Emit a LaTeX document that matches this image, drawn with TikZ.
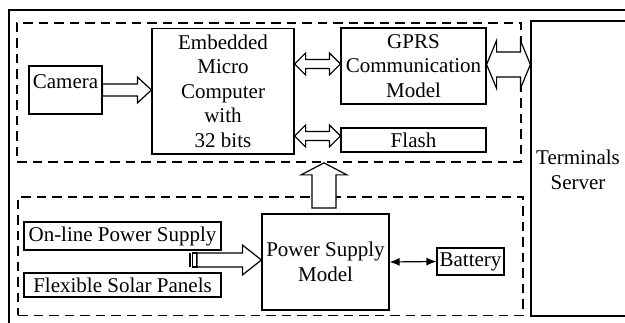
\documentclass[tikz,border=0pt]{standalone}
\usepackage{fontspec}
\setmainfont{Liberation Serif}
\usetikzlibrary{calc,arrows.meta}
\newcommand\fatarrowR[5]{% A, B, shaft half, head half, head length
  \draw[arrowline] ($(#1)+(0,#3)$) -- ($(#2)+(-#5,#3)$) -- ($(#2)+(-#5,#4)$) -- (#2)
    -- ($(#2)+(-#5,-#4)$) -- ($(#2)+(-#5,-#3)$) -- ($(#1)+(0,-#3)$) -- cycle;}
\newcommand\dblarrowH[5]{%
  \draw[arrowline] (#1) -- ($(#1)+(#5,#4)$) -- ($(#1)+(#5,#3)$) -- ($(#2)+(-#5,#3)$)
    -- ($(#2)+(-#5,#4)$) -- (#2) -- ($(#2)+(-#5,-#4)$) -- ($(#2)+(-#5,-#3)$)
    -- ($(#1)+(#5,-#3)$) -- ($(#1)+(#5,-#4)$) -- cycle;}
\newcommand\fatarrowU[5]{%
  \draw[arrowline] ($(#1)+(-#3,0)$) -- ($(#2)+(-#3,#5)$) -- ($(#2)+(-#4,#5)$) -- (#2)
    -- ($(#2)+(#4,#5)$) -- ($(#2)+(#3,#5)$) -- ($(#1)+(#3,0)$) -- cycle;}
\begin{document}
\begin{tikzpicture}[x=1pt,y=-1pt,
  font=\fontsize{21}{24.5}\selectfont,
  box/.style={draw, line width=1.2pt, inner sep=0pt, align=center},
  region/.style={draw, line width=1.8pt, dash pattern=on 9.5pt off 6pt, inner sep=0pt},
  arrowline/.style={draw, line width=1.2pt, fill=white, line join=miter},
  txt/.style={inner sep=0pt, align=center}]
\useasboundingbox (0,0) rectangle (625,323);
% outer frame
\draw[line width=1.5pt] (9,330) -- (9,10) -- (630,10);
% dashed regions
\node[region, minimum width=504pt, minimum height=139pt] (top) at (269,92.5) {};
\node[region, minimum width=505pt, minimum height=118.5pt] (bot) at (270.5,256.25) {};
% boxes
\node[box, minimum width=142pt, minimum height=125.5pt] (emb) at (223,91.25)
  {Embedded\\Micro\\Computer\\with\\32 bits};
\node[box, minimum width=73pt, minimum height=48pt] (cam) at (65.5,90) {};
\node[txt] (camtxt) at (65.5,82) {Camera};
\node[box, minimum width=145pt, minimum height=76pt] (gprs) at (413.5,66)
  {GPRS\\Communication\\Model};
\node[box, minimum width=145pt, minimum height=24pt] (flash) at (413.5,140) {Flash};
\node[box, minimum width=104pt, minimum height=295pt] (term) at (583,168.5) {};
\node[txt] (termtxt) at (578,170) {Terminals\\Server};
\node[box, minimum width=197pt, minimum height=28pt] (online) at (122.5,236)
  {On-line Power Supply};
\node[box, minimum width=197pt, minimum height=24pt] (solar) at (122.5,285)
  {Flexible Solar Panels};
\node[box, minimum width=127pt, minimum height=96pt] (psm) at (325.5,262)
  {Power Supply\\Model};
\node[box, minimum width=67pt, minimum height=27pt] (bat) at (470.5,261.5) {Battery};
% arrows
\coordinate (camB) at (emb.west |- cam.east);
\fatarrowR{cam.east}{camB}{6}{13}{14}
\coordinate (g1) at ([yshift=2pt]gprs.west);
\coordinate (e1) at (emb.east |- g1);
\dblarrowH{e1}{g1}{4.5}{11}{11}
\coordinate (f1) at ([yshift=4pt]flash.west);
\coordinate (e2) at (emb.east |- f1);
\dblarrowH{e2}{f1}{4.5}{11}{11}
\coordinate (g2) at ([yshift=1.5pt]gprs.east);
\coordinate (t2) at (term.west |- g2);
\dblarrowH{g2}{t2}{12.5}{24}{10}
% power arrow with striped tail
\coordinate (ptail) at (197,260);
\coordinate (phead) at ([yshift=2pt]psm.west);
\fill (189,253) rectangle (191,267);
\draw[line width=1.2pt] (192.5,253) rectangle (197,267);
\fatarrowR{ptail}{phead}{7}{15}{19}
% up arrow
\coordinate (utail) at (324,208);
\coordinate (utip) at (utail |- top.south);
\fatarrowU{utail}{utip}{12}{23}{12}
% battery arrow
\draw[line width=1.2pt, {Latex[length=10pt,width=8pt]}-{Latex[length=10pt,width=8pt]}]
  (psm.east) -- (bat.west);
\end{tikzpicture}
\end{document}
